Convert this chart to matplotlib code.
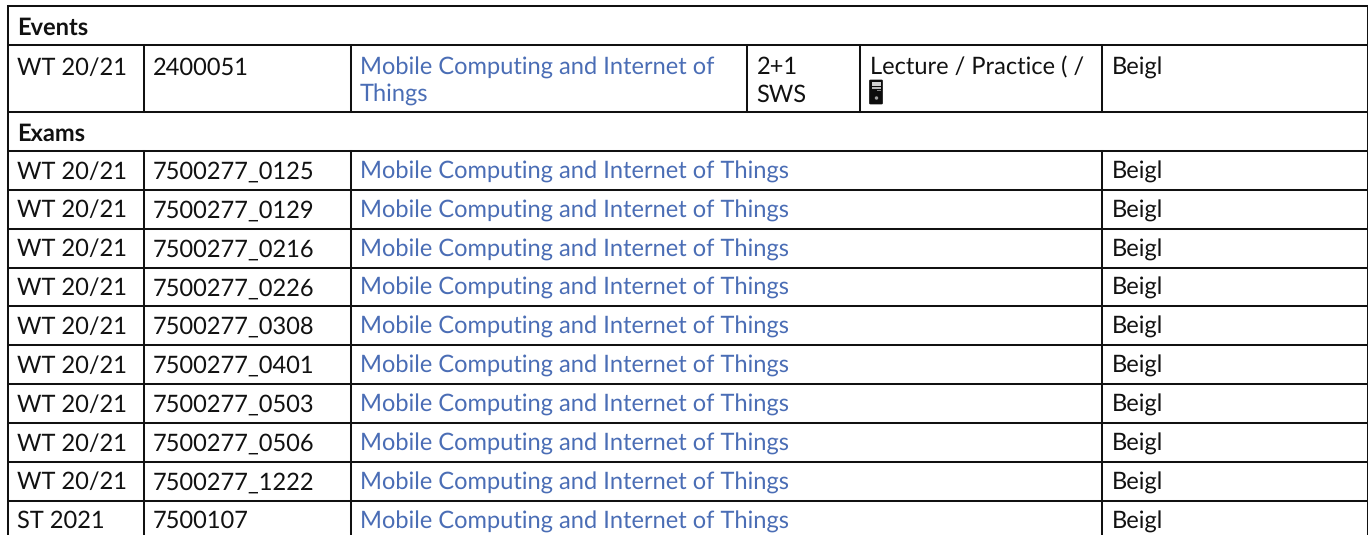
import matplotlib
matplotlib.use("Agg")
import matplotlib.pyplot as plt
from matplotlib.patches import Rectangle, FancyBboxPatch, Circle

terms = ["WT 20/21"] * 9 + ["ST 2021"]
exam_ids = ["7500277_0125", "7500277_0129", "7500277_0216", "7500277_0226", "7500277_0308",
            "7500277_0401", "7500277_0503", "7500277_0506", "7500277_1222", "7500107"]
course = "Mobile Computing and Internet of Things"
lecturer = "Beigl"
event_term = "WT 20/21"
event_id = "2400051"
event_title = ["Mobile Computing and Internet of", "Things"]
event_sws = ["2+1", "SWS"]
event_type = "Lecture / Practice ( /"
headers = ["Events", "Exams"]

plt.rcParams["font.family"] = ["Lato", "DejaVu Sans"]
plt.rcParams["text.hinting"] = "no_hinting"
W, H = 1368, 535
fig = plt.figure(figsize=(W / 100, H / 100), dpi=100)
ax = fig.add_axes([0, 0, 1, 1])
ax.set_xlim(0, W)
ax.set_ylim(H, 0)
ax.axis("off")

BLACK, BLUE = "#111111", "#4a6db5"
FS = 17.0
LW = 1.45
xs = [7.5, 143.5, 350.5, 747, 860, 1102, 1367.5]
y_top, y_ev_head, y_ev, y_ex_head = 5.5, 44.5, 112.3, 151.0
row_h = 38.86
n = len(terms)
row_y = [y_ex_head + i * row_h for i in range(n + 1)]
bottom = H + 2

for y in [y_top, y_ev_head, y_ev, y_ex_head] + row_y[1:]:
    ax.plot([xs[0], xs[-1]], [y, y], color=BLACK, lw=LW, solid_capstyle="butt")
ax.plot([xs[0]] * 2, [y_top, bottom], color=BLACK, lw=LW)
ax.plot([xs[-1]] * 2, [y_top, bottom], color=BLACK, lw=LW)
for x in xs[1:3] + xs[5:6]:
    ax.plot([x, x], [y_ev_head, y_ev], color=BLACK, lw=LW)
    ax.plot([x, x], [y_ex_head, bottom], color=BLACK, lw=LW)
for x in xs[3:5]:
    ax.plot([x, x], [y_ev_head, y_ev], color=BLACK, lw=LW)


def put(x, y, s, color=BLACK, weight="normal"):
    ax.text(x + 9.5, y, s, color=color, fontsize=FS, fontweight=weight, va="baseline", ha="left")


put(xs[0], 35, headers[0], weight="bold")
put(xs[0], 140.5, headers[1], weight="bold")

y1, y2 = 74.5, 102
put(xs[0], y1, event_term)
put(xs[1], y1, event_id)
put(xs[2], y1, event_title[0], BLUE)
put(xs[2], y2, event_title[1], BLUE)
put(xs[3], y1, event_sws[0])
put(xs[3], y2, event_sws[1])
put(xs[4], y1, event_type)
put(xs[5], y1, lecturer)

# computer icon
ax.add_patch(FancyBboxPatch((870, 80.5), 12, 23, boxstyle="round,pad=0.5,rounding_size=1",
                            fc="#0c0c0c", ec="#0c0c0c", lw=0.5))
ax.add_patch(Rectangle((871.5, 82), 9.5, 3.5, fc="#d0d0d0", ec="none"))
ax.add_patch(Rectangle((871.5, 86.5), 9.5, 2.5, fc="#b8b8b8", ec="none"))
ax.add_patch(Rectangle((877, 90), 4, 1, fc="#888888", ec="none"))
ax.add_patch(Circle((876.5, 98), 1.7, fc="#a0a0a0", ec="none"))

for i in range(n):
    y = row_y[i] + 27.5
    put(xs[0], y, terms[i])
    put(xs[1], y, exam_ids[i])
    put(xs[2], y, course, BLUE)
    put(xs[5], y, lecturer)

fig.savefig("out.png", dpi=100, facecolor="white")
